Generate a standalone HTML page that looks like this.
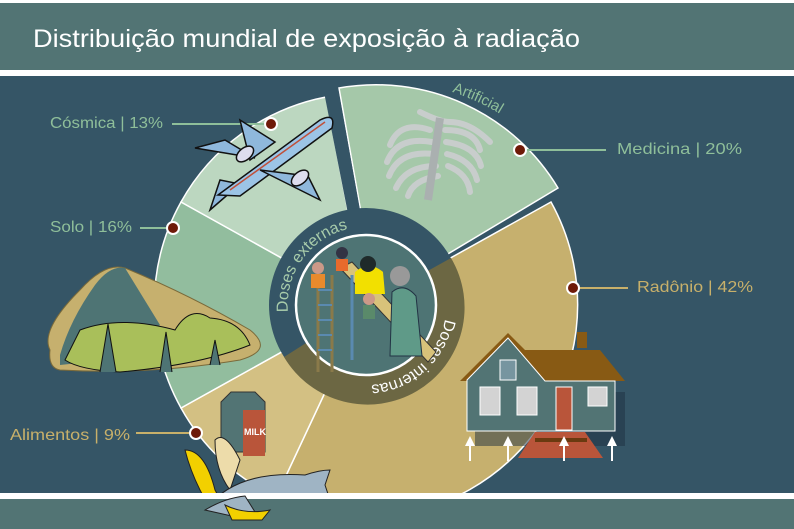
<!DOCTYPE html>
<html><head><meta charset="utf-8"><style>
html,body{margin:0;padding:0;width:794px;height:529px;overflow:hidden;background:#355566;}
svg{display:block;font-family:"Liberation Sans",sans-serif;}
</style></head><body>
<svg width="794" height="529" viewBox="0 0 794 529">
<rect width="794" height="529" fill="#355566"/>
<rect x="0" y="0" width="794" height="3" fill="#fff"/>
<rect x="0" y="3" width="794" height="67" fill="#527474"/>
<text x="33" y="47" font-size="25" fill="#fff" textLength="547" lengthAdjust="spacingAndGlyphs">Distribuição mundial de exposição à radiação</text>
<rect x="0" y="70" width="794" height="6" fill="#fff"/>
<defs><clipPath id="cl"><rect x="0" y="76" width="794" height="417"/></clipPath>
<path id="ext" d="M288,312 A78,78 0 0 1 366,227"/>
<path id="int" d="M445,319 A80,80 0 0 1 300,350"/>
<path id="art" d="M452,92 A222,222 0 0 1 540,145"/>
</defs>
<g clip-path="url(#cl)">
<path d="M366,305 L551,202 A212,212 0 0 1 276,497 Z" fill="#c6b06e" stroke="#fff" stroke-width="1.5"/>
<path d="M366,305 L276,497 A212,212 0 0 1 181,408 Z" fill="#d3c083" stroke="#fff" stroke-width="1.5"/>
<path d="M366,305 L181,408 A212,212 0 0 1 181,202 Z" fill="#92bd9e" stroke="#fff" stroke-width="1.5"/>
<path d="M366,305 L181,202 A212,212 0 0 1 326,97 Z" fill="#bcd7c0" stroke="#fff" stroke-width="1.5"/>
<path d="M376,297 L339,88 A212,212 0 0 1 558,188 Z" fill="#a5c8a9" stroke="#fff" stroke-width="1.5"/>
<path d="M366,305 L324,92 L338,88 L360,210 Z" fill="#355566"/>
</g>
<circle cx="366" cy="305" r="97" fill="#355566"/>
<path d="M366,305 L451,258 A97,97 0 0 1 284,357 Z" fill="#6c6743"/>
<circle cx="366" cy="305" r="70" fill="#4e7474" stroke="#fff" stroke-width="2.5"/>
<text font-size="16" fill="#a8ccab"><textPath href="#ext">Doses externas</textPath></text>
<text font-size="16" fill="#fff"><textPath href="#int">Doses internas</textPath></text>
<text font-size="15" fill="#8fbf9a"><textPath href="#art">Artificial</textPath></text>
<!-- slide scene -->
<g>
<polygon points="340,268 352,262 436,352 428,362" fill="#d8c27a" stroke="#333" stroke-width="1"/>
<line x1="318" y1="275" x2="318" y2="372" stroke="#8a7a4a" stroke-width="3"/>
<line x1="332" y1="275" x2="332" y2="372" stroke="#8a7a4a" stroke-width="3"/>
<line x1="352" y1="275" x2="352" y2="360" stroke="#5a8ab0" stroke-width="3"/>
<path d="M318,290h14M318,305h14M318,320h14M318,335h14M318,350h14" stroke="#5a8ab0" stroke-width="2"/>
<path d="M355,272 q14,-12 28,0 l2,22 h-30z" fill="#f2e000"/>
<circle cx="368" cy="264" r="8" fill="#1f2a2a"/>
<path d="M392,292 q12,-10 24,4 l6,60 h-32z" fill="#5f9a88" stroke="#234" stroke-width="1"/>
<circle cx="400" cy="276" r="10" fill="#999"/>
<circle cx="318" cy="268" r="6" fill="#c98"/><rect x="311" y="274" width="14" height="14" fill="#e88a2c"/>
<circle cx="342" cy="253" r="6" fill="#334"/><rect x="336" y="259" width="12" height="12" fill="#e86a2c"/>
<circle cx="369" cy="299" r="6" fill="#c98"/><rect x="363" y="305" width="12" height="14" fill="#5a8a6a"/>
</g>
<!-- connectors -->
<g stroke-width="2">
<line x1="172" y1="124" x2="271" y2="124" stroke="#8fbf9a"/>
<line x1="140" y1="228" x2="173" y2="228" stroke="#8fbf9a"/>
<line x1="520" y1="150" x2="606" y2="150" stroke="#8fbf9a"/>
<line x1="573" y1="288" x2="628" y2="288" stroke="#c8b06a"/>
<line x1="136" y1="433" x2="196" y2="433" stroke="#c8b06a"/>
</g>
<g fill="#6e1a08" stroke="#fff" stroke-width="2">
<circle cx="271" cy="124" r="6"/><circle cx="173" cy="228" r="6"/><circle cx="520" cy="150" r="6"/><circle cx="573" cy="288" r="6"/><circle cx="196" cy="433" r="6"/>
</g>
<g font-size="16">
<text x="50" y="128" fill="#8fbf9a" textLength="113" lengthAdjust="spacingAndGlyphs">Cósmica | 13%</text>
<text x="50" y="232" fill="#8fbf9a" textLength="82" lengthAdjust="spacingAndGlyphs">Solo | 16%</text>
<text x="617" y="154" fill="#8fbf9a" textLength="125" lengthAdjust="spacingAndGlyphs">Medicina | 20%</text>
<text x="637" y="292" fill="#c8b06a" textLength="116" lengthAdjust="spacingAndGlyphs">Radônio | 42%</text>
<text x="10" y="440" fill="#c8b06a" textLength="120" lengthAdjust="spacingAndGlyphs">Alimentos | 9%</text>
</g>
<!-- plane -->
<g stroke="#111" stroke-width="1.5">
<path d="M195,148 l60,10 l-30,-18 z" fill="#8fb8dc"/>
<path d="M210,210 l30,-26 l-20,-4 z" fill="#8fb8dc"/>
<path d="M218,195 L320,120 Q336,112 332,128 L240,196 Z" fill="#9cc4e6"/>
<path d="M260,170 l60,30 l-12,-24 z" fill="#8fb8dc"/>
<path d="M250,160 l-10,-40 l35,22 z" fill="#8fb8dc"/>
<ellipse cx="245" cy="154" rx="10" ry="6" fill="#dde" transform="rotate(-40 245 154)"/>
<ellipse cx="300" cy="178" rx="10" ry="6" fill="#dde" transform="rotate(-40 300 178)"/>
</g>
<line x1="230" y1="190" x2="325" y2="122" stroke="#c0503a" stroke-width="1.5"/>
<!-- ribs -->
<g fill="none" stroke="#c8cdcc" stroke-width="6" stroke-linecap="round">
<path d="M430,130 q-30,-10 -40,15 M432,142 q-35,-6 -45,20 M434,154 q-35,-4 -45,22 M436,166 q-30,0 -40,22 M438,176 q-25,4 -30,20"/>
<path d="M445,130 q30,0 35,20 M446,142 q30,4 35,24 M447,154 q25,6 30,26 M448,166 q20,8 22,26"/>
<path d="M420,112 q20,10 30,10 q20,0 40,20"/>
</g>
<path d="M440,118 L428,200" stroke="#aab0b0" stroke-width="8"/>
<!-- mountain -->
<path d="M50,350 Q40,330 80,290 Q105,262 125,268 Q190,295 250,330 Q275,350 240,360 Q150,375 60,370 Q48,368 50,350 Z" fill="#c6b06e" stroke="#7a6a3a" stroke-width="1"/>
<path d="M60,355 Q70,320 95,285 Q110,265 125,268 L160,325 Q120,360 60,365 Z" fill="#4e7474"/>
<path d="M80,330 Q120,315 175,330 Q190,305 210,318 Q240,320 250,345 Q200,365 120,372 Q80,370 65,360 Z" fill="#a9bf5a" stroke="#111" stroke-width="1"/>
<path d="M100,372 l8,-48 l8,48 M160,372 l6,-40 l6,40 M210,365 l5,-25 l5,25" fill="#4e7474" stroke="#111"/>
<!-- house -->
<rect x="475" y="392" width="150" height="54" fill="#1d3040" opacity=".5"/>
<path d="M508,333 L460,381 H625 L600,350 H525 Z" fill="#885a14"/>
<rect x="577" y="332" width="10" height="16" fill="#885a14"/>
<path d="M508,338 L467,380 V431 H615 V381 H545 Z" fill="#527474" stroke="#fff" stroke-width="1"/>
<rect x="500" y="360" width="16" height="20" fill="#7795a0" stroke="#fff"/>
<rect x="480" y="387" width="20" height="28" fill="#d3d3d3" stroke="#fff"/>
<rect x="517" y="387" width="20" height="28" fill="#d3d3d3" stroke="#fff"/>
<rect x="556" y="387" width="16" height="43" fill="#b9553a" stroke="#fff"/>
<rect x="588" y="387" width="19" height="19" fill="#d3d3d3" stroke="#fff"/>
<path d="M535,432 H585 L603,458 H518 Z" fill="#b9553a"/>
<rect x="535" y="438" width="52" height="4" fill="#6a3a10"/>
<g fill="#fff" stroke="#fff" stroke-width="2">
<path d="M470,461 V443"/><path d="M508,461 V443"/><path d="M564,461 V443"/><path d="M612,461 V443"/>
</g>
<g fill="#fff"><path d="M465,446 l5,-10 l5,10z"/><path d="M503,446 l5,-10 l5,10z"/><path d="M559,446 l5,-10 l5,10z"/><path d="M607,446 l5,-10 l5,10z"/></g>
<!-- milk -->
<path d="M221,402 l10,-10 h24 l10,10 v50 h-44z" fill="#527474" stroke="#333"/>
<rect x="243" y="410" width="22" height="46" fill="#b9553a"/>
<text x="244" y="435" font-size="9" fill="#fff" font-weight="bold">MILK</text>
<!-- banana -->
<path d="M185,450 q20,0 30,40 q10,20 30,20 q-30,10 -45,-20 q-10,-20 -15,-40z" fill="#f2d000" stroke="#222"/>
<path d="M215,440 q10,-10 25,20 l-10,30 q-15,-20 -15,-50z" fill="#eddcaa" stroke="#222"/>
<!-- fish -->
<path d="M205,510 q30,-40 100,-35 q15,-5 25,-5 l-5,15 l5,15 q-15,-5 -25,-5 q-60,20 -100,15z" fill="#9fb4c4" stroke="#222"/>
<rect x="0" y="493" width="794" height="6" fill="#fff"/>
<rect x="0" y="499" width="794" height="30" fill="#527474"/>
<path d="M205,510 q20,-12 40,-14 l10,16 l-10,7 z" fill="#9fb4c4" stroke="#222"/>
<path d="M225,505 q20,10 45,5 l-8,10 h-30z" fill="#f2d000" stroke="#222"/>
</svg>
</body></html>
